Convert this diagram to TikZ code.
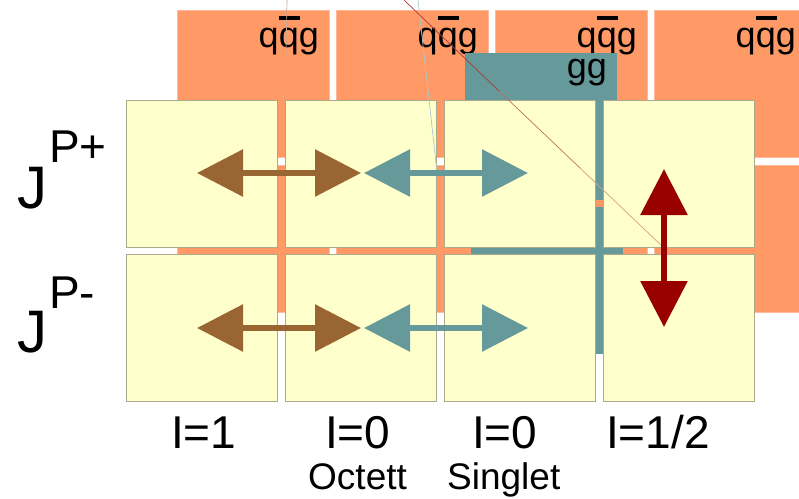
\documentclass[tikz,border=0pt]{standalone}
\usepackage{fontspec}
\setmainfont{Liberation Sans}
\usetikzlibrary{arrows.meta}
\definecolor{orangebox}{HTML}{FF9966}
\definecolor{orangeedge}{HTML}{FFB899}
\definecolor{tealbox}{HTML}{669999}
\definecolor{yellowbox}{HTML}{FFFFCC}
\definecolor{yellowedge}{HTML}{ABAB8C}
\definecolor{brownarr}{HTML}{996633}
\definecolor{redarr}{HTML}{990000}
\definecolor{thingrey}{HTML}{C8A890}
\definecolor{thinblue}{HTML}{A8C8CC}
\definecolor{thinreddark}{HTML}{A83A3A}
\definecolor{thinredmid}{HTML}{C07060}
\definecolor{thinredlight}{HTML}{D8A080}
\newcommand{\qbarglyph}{\rlap{\raisebox{0.75em}{\rule{0.6em}{0.114em}}}q}
\begin{document}
\begin{tikzpicture}[x=1pt,y=-1pt,
  obox/.style={fill=orangebox, draw=orangeedge, line width=0.6pt, anchor=north west,
    minimum width=152pt, minimum height=147pt, inner sep=0pt, outer sep=0pt},
  tbox/.style={fill=tealbox, anchor=north west,
    minimum width=152pt, minimum height=147pt, inner sep=0pt, outer sep=0pt},
  ybox/.style={fill=yellowbox, draw=yellowedge, line width=0.7pt, anchor=north west,
    minimum width=151pt, minimum height=147pt, inner sep=0pt, outer sep=0pt},
  qlab/.style={font=\fontsize{36}{40}\selectfont, anchor=base east, inner sep=0pt},
  jlab/.style={font=\fontsize{60}{70}\selectfont, anchor=base west, inner sep=0pt},
  suplab/.style={font=\fontsize{46}{54}\selectfont, anchor=base west, inner sep=0pt},
  ilab/.style={font=\fontsize{46}{54}\selectfont, anchor=base west, inner sep=0pt},
  sublab/.style={font=\fontsize{37}{42}\selectfont, anchor=base west, inner sep=0pt},
  dblarrow/.style={line width=6pt, {Triangle[length=46pt,width=46pt]}-{Triangle[length=46pt,width=46pt]}},
  thinline/.style={line width=0.7pt}
]
\useasboundingbox (0,0) rectangle (799,498);
\fill[white] (0,0) rectangle (799,498);

% orange q qbar g boxes
\foreach \c/\x in {1/177,2/336,3/495,4/654}{
  \node[obox] (o1\c) at (\x,10) {};
  \node[obox] (o2\c) at (\x,165) {};
}
\node[qlab] (q1) at (319,47) {q\qbarglyph g};
\node[qlab] (q2) at (478,47) {q\qbarglyph g};
\node[qlab] (q3) at (637,47) {q\qbarglyph g};
\node[qlab] (q4) at (796,47) {q\qbarglyph g};

% teal gg boxes
\node[tbox] (t1) at (465,53) {};
\node[tbox] (t2) at (471,207) {};
\node[qlab] (gg) at (607,78) {gg};

% yellow boxes
\foreach \c/\x in {1/126,2/285,3/444,4/603}{
  \node[ybox] (y1\c) at (\x,100) {};
  \node[ybox] (y2\c) at (\x,254) {};
}

% thin lines
\coordinate (g0) at (287,0);
\coordinate (g1) at (285,100);
\draw[thinline, thingrey] (g0) -- (g1);
\coordinate (b0) at (418,0);
\coordinate (b1) at (437,172);
\draw[thinline, thinblue] (b0) -- (b1);
\coordinate (r0) at (404,0);
\coordinate (r1) at (499,91);
\coordinate (r2) at (580,168);
\coordinate (r3) at (662,246);
\draw[thinline, thinreddark] (r0) -- (r1);
\draw[thinline, thinredmid] (r1) -- (r2);
\draw[thinline, thinredlight] (r2) -- (r3);

% arrows
\coordinate (a1l) at (197,173);
\coordinate (a1r) at (361,173);
\coordinate (a2l) at (364,173);
\coordinate (a2r) at (528,173);
\coordinate (a3l) at (197,328);
\coordinate (a3r) at (361,328);
\coordinate (a4l) at (364,328);
\coordinate (a4r) at (528,328);
\coordinate (a5t) at (664,169);
\coordinate (a5b) at (664,327);
\draw[dblarrow, brownarr] (a1l) -- (a1r);
\draw[dblarrow, tealbox] (a2l) -- (a2r);
\draw[dblarrow, brownarr] (a3l) -- (a3r);
\draw[dblarrow, tealbox] (a4l) -- (a4r);
\draw[dblarrow, redarr] (a5t) -- (a5b);

% left labels
\node[jlab] (j1) at (17,208) {J};
\node[suplab] (p1) at (49,162) {P+};
\node[jlab] (j2) at (17,352) {J};
\node[suplab] (p2) at (49,308) {P-};

% bottom labels
\node[ilab] (i1) at (171,448) {I=1};
\node[ilab] (i2) at (325,448) {I=0};
\node[ilab] (i3) at (472,448) {I=0};
\node[ilab] (i4) at (606,448) {I=1/2};
\node[sublab] (s1) at (308,489) {Octett};
\node[sublab] (s2) at (447,489) {Singlet};
\end{tikzpicture}
\end{document}
